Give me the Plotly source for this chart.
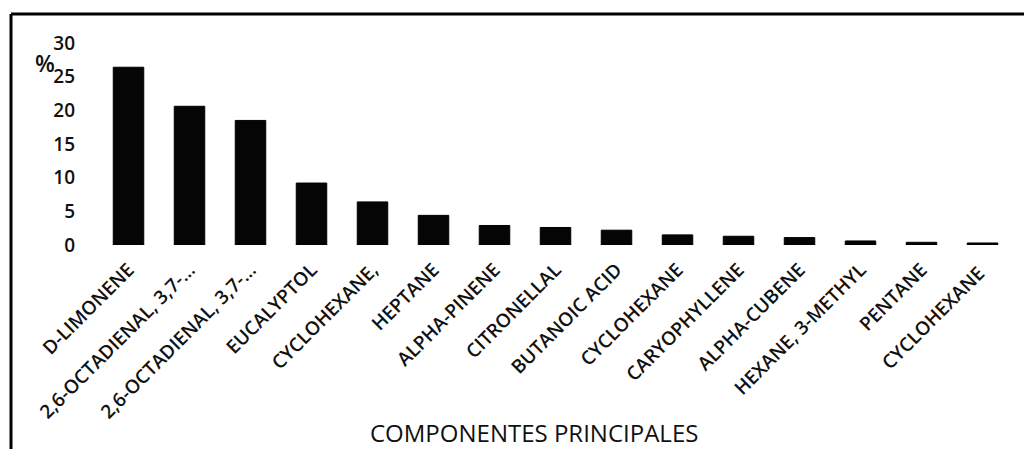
import plotly.graph_objs as go

# componentes principales del aceite (en %)
componentes = ['D-LIMONENE', '2,6-OCTADIENAL, 3,7-...', '2,6-OCTADIENAL, 3,7-...',
               'EUCALYPTOL', 'CYCLOHEXANE,', 'HEPTANE', 'ALPHA-PINENE', 'CITRONELLAL',
               'BUTANOIC ACID', 'CYCLOHEXANE', 'CARYOPHYLLENE', 'ALPHA-CUBENE',
               'HEXANE, 3-METHYL', 'PENTANE', 'CYCLOHEXANE ']
porcentaje = [26.4, 20.6, 18.5, 9.2, 6.4, 4.4, 2.9, 2.6, 2.2, 1.5, 1.3, 1.1, 0.6, 0.4, 0.3]
y_ticks = [0, 5, 10, 15, 20, 25, 30]

W, H = 1032, 449
OFF = 8  # body margin of the html page
# plot area in screen pixels: x 98..1013, y 43..245
L = 98 - OFF
T = 43 - OFF
R = W - (1013 - OFF)
B = H - (245 - OFF)

def px_x(px):
    return (px - OFF - L) / (W - L - R)

def px_y(py):
    return (H - B - (py - OFF)) / (H - T - B)

fig = go.Figure()
fig.add_trace(go.Bar(
    x=list(range(len(componentes))),
    y=porcentaje,
    marker=dict(color='#050505', line=dict(color='#000000', width=1)),
    showlegend=False,
))

fig.update_layout(
    width=W, height=H,
    margin=dict(l=L, r=R, t=T, b=B, pad=0),
    autosize=False,
    paper_bgcolor='white',
    plot_bgcolor='white',
    bargap=0.5,
    font=dict(family='Open Sans', size=16, color='#111111'),
    xaxis=dict(
        tickmode='array',
        tickvals=list(range(len(componentes))),
        ticktext=componentes,
        tickangle=-45,
        tickfont=dict(size=19, weight=600),
        showgrid=False, showline=False, zeroline=False, ticks='',
        ticklabelstandoff=9,
        range=[-0.5, len(componentes) - 0.5],
        automargin=False,
    ),
    yaxis=dict(
        range=[0, 30],
        tickvals=y_ticks,
        tickfont=dict(size=19, weight=600),
        showgrid=False, showline=False, zeroline=False, ticks='',
        ticklabelstandoff=22,
        automargin=False,
    ),
    annotations=[
        dict(text='%', x=px_x(45), y=px_y(63), xref='paper', yref='paper',
             xanchor='center', yanchor='middle',
             showarrow=False, font=dict(size=23, color='#111111', weight=600)),
        dict(text='COMPONENTES PRINCIPALES', x=px_x(534), y=px_y(432),
             xref='paper', yref='paper', xanchor='center', yanchor='middle',
             showarrow=False, font=dict(size=24, color='#111111')),
    ],
    shapes=[
        dict(type='line', xref='paper', yref='paper', x0=px_x(11), x1=px_x(1045),
             y0=px_y(14), y1=px_y(14), line=dict(color='black', width=3)),
        dict(type='line', xref='paper', yref='paper', x0=px_x(11), x1=px_x(11),
             y0=px_y(14), y1=px_y(470), line=dict(color='black', width=3)),
    ],
)

fig.write_html("out.html")
